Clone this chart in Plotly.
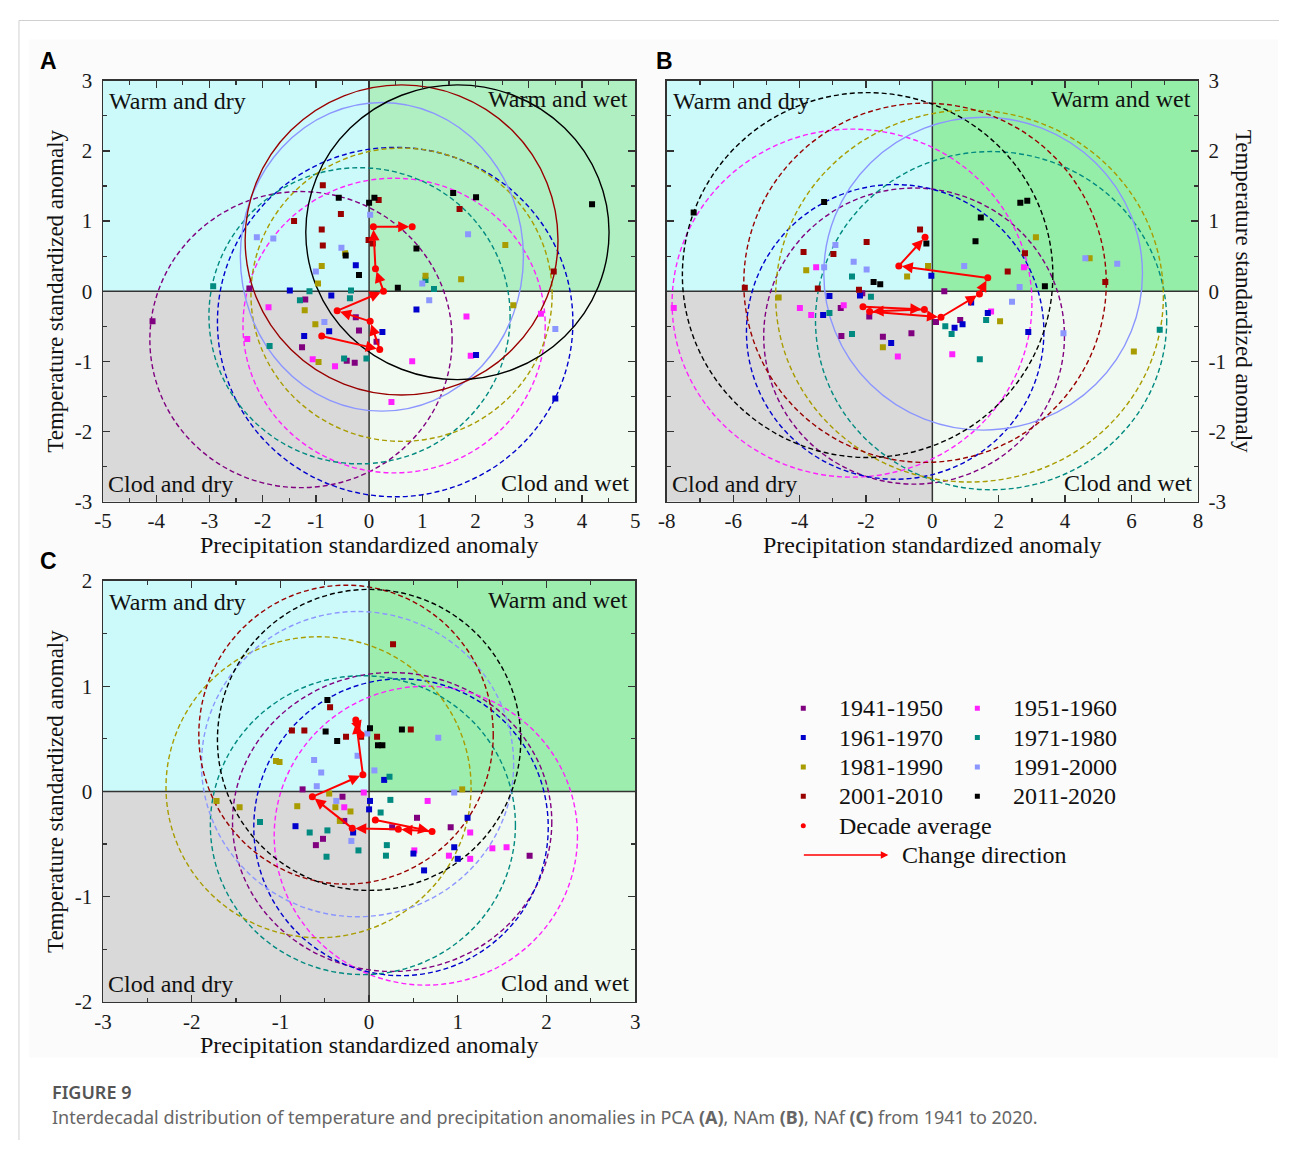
import plotly.graph_objects as go

# The page adds an 8px body margin; the figure is sized so that the page is exactly 1292x1160.
PAGE_W, PAGE_H, MARGIN = 1292, 1160, 8
W, H = PAGE_W - 2 * MARGIN, PAGE_H - 2 * MARGIN

DECADES = ["1941-1950", "1951-1960", "1961-1970", "1971-1980",
           "1981-1990", "1991-2000", "2001-2010", "2011-2020"]
COLORS = ["#800080", "#ff22ff", "#0000cc", "#008a80",
          "#a89c00", "#8c96ff", "#990000", "#000000"]

# ---------------- Panel A (PCA) ----------------
A_1941 = [(-1.20, -0.12), (-0.25, -0.37), (-0.19, -0.56), (-1.26, -0.80), (-0.42, -0.99),
          (-0.27, -1.02), (-4.07, -0.43), (0.14, -0.72), (-2.25, 0.04)]
A_1951 = [(-1.89, -0.23), (-2.29, -0.68), (-1.06, -0.97), (-0.64, -1.07), (0.42, -1.58),
          (0.81, -1.00), (1.83, -0.36), (1.91, -0.92), (3.23, -0.32)]
A_1961 = [(-0.25, 0.37), (-1.49, 0.01), (-0.71, -0.06), (0.89, -0.26), (-0.75, -0.57),
          (-1.22, -0.64), (0.25, -0.58), (2.01, -0.91), (3.50, -1.53)]
A_1971 = [(-2.93, 0.07), (-1.12, 0.00), (-0.34, 0.01), (1.22, 0.03), (-1.30, -0.13),
          (-0.36, -0.10), (1.06, 0.16), (-1.87, -0.78), (-0.47, -0.96), (-0.05, -0.96)]
A_1981 = [(-0.45, 0.54), (-0.89, 0.36), (-0.96, 0.11), (1.06, 0.22), (1.73, 0.17),
          (2.56, 0.66), (2.71, -0.20), (-1.21, -0.27), (-1.01, -0.47), (-0.95, -1.01)]
A_1991 = [(0.02, 1.09), (-2.11, 0.77), (-1.80, 0.75), (-0.52, 0.62), (-1.00, 0.28),
          (1.86, 0.81), (1.00, 0.11), (1.13, -0.13), (-0.84, -0.44), (3.50, -0.54)]
A_2001 = [(-0.87, 1.51), (0.18, 1.30), (-0.53, 1.10), (-1.41, 1.00), (1.70, 1.17),
          (-0.89, 0.88), (-0.87, 0.65), (-0.01, 0.73), (0.07, 0.68), (3.47, 0.28)]
A_2011 = [(2.01, 1.34), (1.58, 1.40), (4.19, 1.24), (0.00, 1.26), (0.10, 1.33),
          (-0.57, 1.33), (0.89, 0.61), (-0.44, 0.51), (-0.19, 0.23), (0.54, 0.05)]
A_avg_x = [-0.89, 0.20, 0.02, -0.60, 0.27, 0.12, 0.08, 0.81]
A_avg_y = [-0.64, -0.83, -0.43, -0.28, 0.00, 0.32, 0.92, 0.92]
A_circ_cx = [-1.28, 0.47, 0.49, -0.18, 0.61, 0.24, 0.61, 1.66]
A_circ_cy = [-0.69, -0.49, -0.44, -0.35, -0.05, 0.49, 0.73, 0.84]
A_circ_rx = [2.84, 2.84, 3.34, 2.83, 2.83, 2.66, 2.94, 2.85]
A_circ_ry = [2.11, 2.10, 2.49, 2.11, 2.09, 2.20, 2.21, 2.10]

# ---------------- Panel B (NAm) ----------------
B_1941 = [(-2.11, -0.03), (-2.76, -0.24), (-1.90, -0.36), (-2.74, -0.64), (-1.49, -0.65),
          (-0.63, -0.60), (0.36, 0.00), (0.11, -0.44), (0.84, -0.41)]
B_1951 = [(-3.50, 0.34), (-3.99, -0.24), (-3.65, -0.34), (-2.67, -0.20), (-7.79, -0.24),
          (-1.04, -0.93), (0.60, -0.90), (1.77, -0.29), (2.76, 0.34)]
B_1961 = [(-0.03, 0.22), (-3.10, -0.07), (-2.18, -0.06), (-3.29, -0.34), (1.17, -0.16),
          (1.67, -0.31), (0.67, -0.52), (0.91, -0.47), (-1.24, -0.74), (2.89, -0.58)]
B_1971 = [(-2.42, 0.21), (-1.85, -0.08), (-3.10, -0.31), (-2.42, -0.61), (0.39, -0.50),
          (0.58, -0.61), (1.62, -0.41), (1.43, -0.97), (6.85, -0.55)]
B_1981 = [(-3.80, 0.30), (-0.76, 0.21), (-0.13, 0.36), (3.12, 0.77), (4.74, 0.47),
          (-4.63, -0.09), (2.04, -0.43), (-1.49, -0.80), (6.07, -0.86)]
B_1991 = [(-2.92, 0.66), (-2.37, 0.42), (-1.98, 0.31), (-3.26, 0.34), (0.96, 0.36),
          (4.61, 0.47), (5.57, 0.39), (2.63, 0.06), (2.40, -0.15), (3.95, -0.60)]
B_2001 = [(-0.37, 0.88), (-1.98, 0.70), (-3.88, 0.56), (-2.98, 0.53), (2.79, 0.54),
          (2.27, 0.28), (-3.45, 0.04), (-5.65, 0.05), (-2.21, 0.02), (5.21, 0.13)]
B_2011 = [(-7.19, 1.12), (-3.26, 1.27), (2.65, 1.26), (2.86, 1.29), (1.46, 1.05),
          (1.30, 0.71), (-0.18, 0.68), (-1.77, 0.13), (-1.57, 0.10), (3.39, 0.07)]
B_avg_x = [-2.09, -0.24, -1.89, 0.26, 1.42, 1.67, -1.01, -0.22]
B_avg_y = [-0.22, -0.26, -0.29, -0.37, -0.04, 0.19, 0.36, 0.77]
B_circ_cx = [-0.55, -2.42, -1.12, 1.77, 1.12, 1.53, -0.22, -1.95]
B_circ_cy = [-0.64, -0.17, -0.58, -0.42, -0.07, 0.25, 0.12, 0.23]
B_circ_rx = [4.53, 5.42, 4.48, 5.29, 5.84, 4.80, 5.46, 5.58]
B_circ_ry = [2.11, 2.48, 2.10, 2.41, 2.65, 2.23, 2.56, 2.60]

# ---------------- Panel C (NAf) ----------------
C_1941 = [(-0.75, 0.02), (-0.30, -0.05), (-0.28, -0.28), (0.26, -0.34), (0.54, -0.25),
          (0.92, -0.34), (-0.60, -0.51), (-0.52, -0.45), (1.81, -0.61)]
C_1951 = [(-0.06, -0.01), (-0.28, -0.15), (0.66, -0.09), (1.14, -0.39), (0.51, -0.56),
          (0.90, -0.61), (1.14, -0.64), (1.39, -0.54), (1.55, -0.53)]
C_1961 = [(0.17, 0.11), (0.01, -0.09), (0.00, -0.17), (1.11, -0.25), (-0.83, -0.33),
          (-0.18, -0.39), (0.50, -0.59), (0.96, -0.53), (1.00, -0.64), (0.62, -0.75)]
C_1971 = [(0.23, 0.14), (0.24, -0.08), (0.13, -0.20), (-1.23, -0.29), (-0.67, -0.39),
          (-0.47, -0.37), (0.20, -0.51), (0.19, -0.61), (-0.48, -0.62), (-0.12, -0.56)]
C_1981 = [(-1.05, 0.29), (-1.01, 0.28), (-0.45, -0.02), (1.05, 0.02), (-1.72, -0.09),
          (-1.46, -0.15), (-0.81, -0.14), (-0.38, -0.15), (-0.21, -0.19), (-0.33, -0.28)]
C_1991 = [(-0.02, 0.55), (0.78, 0.51), (-0.62, 0.30), (-0.54, 0.18), (-0.59, 0.05),
          (-0.13, 0.34), (0.06, 0.20), (0.96, -0.01), (-0.37, -0.09), (-0.20, -0.47)]
C_2001 = [(0.27, 1.40), (-0.44, 0.80), (-0.87, 0.58), (-0.73, 0.58), (-0.26, 0.52),
          (-0.09, 0.52), (0.09, 0.52), (0.47, 0.59)]
C_2011 = [(-0.47, 0.87), (-0.49, 0.57), (-0.36, 0.48), (0.01, 0.60), (0.37, 0.59),
          (0.10, 0.44), (0.15, 0.44)]
C_avg_x = [0.07, 0.71, 0.33, -0.19, -0.64, -0.07, -0.15, -0.09]
C_avg_y = [-0.27, -0.38, -0.36, -0.35, -0.05, 0.16, 0.68, 0.54]
C_circ_cx = [0.26, 0.64, 0.36, -0.07, -0.57, -0.13, -0.26, 0.00]
C_circ_cy = [-0.29, -0.42, -0.34, -0.32, 0.04, 0.26, 0.54, 0.49]
C_circ_rx = [1.80, 1.71, 1.66, 1.72, 1.72, 1.76, 1.66, 1.71]
C_circ_ry = [1.42, 1.42, 1.41, 1.42, 1.43, 1.45, 1.42, 1.43]

X_RANGES = {"A": (-5, 5), "B": (-8, 8), "C": (-3, 3)}
Y_RANGES = {"A": (-3, 3), "B": (-3, 3), "C": (-2, 2)}
X_TICKS = {"A": [-5, -4, -3, -2, -1, 0, 1, 2, 3, 4, 5],
           "B": [-8, -6, -4, -2, 0, 2, 4, 6, 8],
           "C": [-3, -2, -1, 0, 1, 2, 3]}
Y_TICKS = {"A": [-3, -2, -1, 0, 1, 2, 3], "B": [-3, -2, -1, 0, 1, 2, 3], "C": [-2, -1, 0, 1, 2]}
QUAD_LABELS = ["Warm and dry", "Warm and wet", "Clod and dry", "Clod and wet"]
X_TITLE = "Precipitation standardized anomaly"
Y_TITLE = "Temperature standardized anomaly"
LEGEND_AVG = "Decade average"
LEGEND_DIR = "Change direction"


# ------------- helpers (page pixel -> paper) -------------
def px(xp):
    return (xp - MARGIN) / W


def py(yp):
    return 1 - (yp - MARGIN) / H


SERIF = "Liberation Serif"
TXT = "#111111"
fig = go.Figure()

panels = {
    "A": dict(xa="x", ya="y", pts=[A_1941, A_1951, A_1961, A_1971, A_1981, A_1991, A_2001, A_2011],
              ax=A_avg_x, ay=A_avg_y, cx=A_circ_cx, cy=A_circ_cy, rx=A_circ_rx, ry=A_circ_ry,
              solid={5, 6, 7}, box=(95, 633, 70, 500), tr="#b0efc2"),
    "B": dict(xa="x2", ya="y2", pts=[B_1941, B_1951, B_1961, B_1971, B_1981, B_1991, B_2001, B_2011],
              ax=B_avg_x, ay=B_avg_y, cx=B_circ_cx, cy=B_circ_cy, rx=B_circ_rx, ry=B_circ_ry,
              solid={5}, box=(665, 1202, 70, 500), tr="#95eea8"),
    "C": dict(xa="x3", ya="y3", pts=[C_1941, C_1951, C_1961, C_1971, C_1981, C_1991, C_2001, C_2011],
              ax=C_avg_x, ay=C_avg_y, cx=C_circ_cx, cy=C_circ_cy, rx=C_circ_rx, ry=C_circ_ry,
              solid=set(), box=(95, 633, 581, 1011), tr="#9deeae"),
}

shapes = []
annotations = []

# figure background frame
shapes.append(dict(type="rect", xref="paper", yref="paper", x0=px(20), x1=px(1283), y0=py(1068), y1=py(28),
                   fillcolor="#fbfbfb", line=dict(width=0), layer="below"))
shapes.append(dict(type="line", xref="paper", yref="paper", x0=px(10), x1=1.0, y0=py(8.5), y1=py(8.5),
                   line=dict(color="#d0d0d0", width=1), layer="below"))
shapes.append(dict(type="line", xref="paper", yref="paper", x0=px(10), x1=px(10), y0=0, y1=py(8.5),
                   line=dict(color="#d0d0d0", width=1), layer="below"))

for key, p in panels.items():
    xa, ya = p["xa"], p["ya"]
    x0r, x1r = X_RANGES[key]
    y0r, y1r = Y_RANGES[key]
    quads = [(x0r, 0, 0, y1r, "#ccfafa"), (0, x1r, 0, y1r, p["tr"]),
             (x0r, 0, y0r, 0, "#d9d9d9"), (0, x1r, y0r, 0, "#f1faf1")]
    for qx0, qx1, qy0, qy1, col in quads:
        shapes.append(dict(type="rect", xref=xa, yref=ya, x0=qx0, x1=qx1, y0=qy0, y1=qy1,
                           fillcolor=col, line=dict(width=0), layer="below"))
    shapes.append(dict(type="line", xref=xa, yref=ya, x0=0, x1=0, y0=y0r, y1=y1r,
                       line=dict(color="#333333", width=1.5), layer="below"))
    shapes.append(dict(type="line", xref=xa, yref=ya, x0=x0r, x1=x1r, y0=0, y1=0,
                       line=dict(color="#333333", width=1.5), layer="below"))
    for i in range(8):
        solid = i in p["solid"]
        shapes.append(dict(type="circle", xref=xa, yref=ya,
                           x0=p["cx"][i] - p["rx"][i], x1=p["cx"][i] + p["rx"][i],
                           y0=p["cy"][i] - p["ry"][i], y1=p["cy"][i] + p["ry"][i],
                           line=dict(color=COLORS[i], width=1.4,
                                     dash="solid" if solid else "5px,3px"),
                           layer="below"))
    for i in range(8):
        pts = p["pts"][i]
        fig.add_trace(go.Scatter(x=[a for a, b in pts], y=[b for a, b in pts], mode="markers",
                                 marker=dict(symbol="square", size=6, color=COLORS[i]),
                                 xaxis=xa, yaxis=ya, showlegend=False, hoverinfo="skip"))
    fig.add_trace(go.Scatter(x=p["ax"], y=p["ay"], mode="markers",
                             marker=dict(symbol="circle", size=7, color="#ff0000"),
                             xaxis=xa, yaxis=ya, showlegend=False, hoverinfo="skip"))
    for i in range(7):
        annotations.append(dict(x=p["ax"][i + 1], y=p["ay"][i + 1], ax=p["ax"][i], ay=p["ay"][i],
                                xref=xa, yref=ya, axref=xa, ayref=ya, text="", showarrow=True,
                                arrowhead=2, arrowsize=1.1, arrowwidth=2, arrowcolor="#ff0000",
                                standoff=3))
    bx0, bx1, by0, by1 = p["box"]
    lab_font = dict(family=SERIF, size=24, color=TXT)
    annotations.append(dict(x=px(bx0 + 4), y=py(by0 + 21), xref="paper", yref="paper", text=QUAD_LABELS[0],
                            showarrow=False, xanchor="left", yanchor="middle", font=lab_font))
    annotations.append(dict(x=px(bx1 - 5), y=py(by0 + 19), xref="paper", yref="paper", text=QUAD_LABELS[1],
                            showarrow=False, xanchor="right", yanchor="middle", font=lab_font))
    annotations.append(dict(x=px(bx0 + 3), y=py(by1 - 18), xref="paper", yref="paper", text=QUAD_LABELS[2],
                            showarrow=False, xanchor="left", yanchor="middle", font=lab_font))
    annotations.append(dict(x=px(bx1 - 4), y=py(by1 - 19), xref="paper", yref="paper", text=QUAD_LABELS[3],
                            showarrow=False, xanchor="right", yanchor="middle", font=lab_font))
    annotations.append(dict(x=px((bx0 + bx1) / 2), y=py(by1 + 44), xref="paper", yref="paper", text=X_TITLE,
                            showarrow=False, xanchor="center", yanchor="middle",
                            font=dict(family=SERIF, size=24, color=TXT)))
    if key == "B":
        annotations.append(dict(x=px(1248), y=py((by0 + by1) / 2), xref="paper", yref="paper", text=Y_TITLE,
                                showarrow=False, textangle=90, xanchor="center", yanchor="middle",
                                font=dict(family=SERIF, size=23, color=TXT)))
    else:
        annotations.append(dict(x=px(47), y=py((by0 + by1) / 2), xref="paper", yref="paper", text=Y_TITLE,
                                showarrow=False, textangle=-90, xanchor="center", yanchor="middle",
                                font=dict(family=SERIF, size=23, color=TXT)))
    lx = 40 if key != "B" else 663
    annotations.append(dict(x=px(lx), y=py(by0 - 20), xref="paper", yref="paper", text="<b>%s</b>" % key,
                            showarrow=False, xanchor="center", yanchor="middle",
                            font=dict(family="Liberation Sans", size=23, color="#000000")))


def axis(rng, ticks, minor, domain, standoff, side=None):
    d = dict(range=list(rng), tickmode="array", tickvals=ticks, ticktext=[str(t) for t in ticks],
             domain=domain, showline=True,
             linecolor="#333333", linewidth=1.5, mirror="ticks", ticks="inside", ticklen=7,
             tickwidth=1.3, tickcolor="#333333", showgrid=False, zeroline=False,
             tickfont=dict(family=SERIF, size=21, color="#1a1a1a"),
             minor=dict(dtick=minor, tick0=rng[0], ticks="inside", ticklen=4, tickwidth=1.2,
                        tickcolor="#333333", showgrid=False),
             ticklabelstandoff=standoff, fixedrange=True)
    if side:
        d["side"] = side
    return d


layout_axes = dict(
    xaxis=dict(axis(X_RANGES["A"], X_TICKS["A"], 0.5, [px(95), px(633)], 0), anchor="y"),
    yaxis=dict(axis(Y_RANGES["A"], Y_TICKS["A"], 0.5, [py(500), py(70)], 5), anchor="x"),
    xaxis2=dict(axis(X_RANGES["B"], X_TICKS["B"], 1, [px(665), px(1202)], 0), anchor="y2"),
    yaxis2=dict(axis(Y_RANGES["B"], Y_TICKS["B"], 0.5, [py(500), py(70)], 5, side="right"), anchor="x2"),
    xaxis3=dict(axis(X_RANGES["C"], X_TICKS["C"], 0.5, [px(95), px(633)], 0), anchor="y3"),
    yaxis3=dict(axis(Y_RANGES["C"], Y_TICKS["C"], 0.5, [py(1011), py(581)], 5), anchor="x3"),
)

# ---------------- custom legend on a hidden axis ----------------
LEG_X0, LEG_X1, LEG_Y0, LEG_Y1 = 780, 1140, 690, 880
leg_col_x = [803, 979]
leg_row_y = [711, 741, 771, 801]
for i in range(8):
    col, row = i % 2, i // 2
    fig.add_trace(go.Scatter(x=[leg_col_x[col]], y=[leg_row_y[row]], mode="markers",
                             marker=dict(symbol="square", size=5, color=COLORS[i]),
                             xaxis="x4", yaxis="y4", showlegend=False, hoverinfo="skip"))
    annotations.append(dict(x=px(leg_col_x[col] + 34), y=py(leg_row_y[row]), xref="paper", yref="paper",
                            text=DECADES[i], showarrow=False, xanchor="left", yanchor="middle",
                            font=dict(family=SERIF, size=24, color=TXT)))
fig.add_trace(go.Scatter(x=[803], y=[831], mode="markers", marker=dict(symbol="circle", size=5, color="#ff0000"),
                         xaxis="x4", yaxis="y4", showlegend=False, hoverinfo="skip"))
annotations.append(dict(x=px(837), y=py(831), xref="paper", yref="paper", text=LEGEND_AVG, showarrow=False,
                        xanchor="left", yanchor="middle", font=dict(family=SERIF, size=24, color=TXT)))
annotations.append(dict(x=px(889), y=py(861), ax=-86, ay=0, xref="paper", yref="paper",
                        text="", showarrow=True, arrowhead=2, arrowsize=1,
                        arrowwidth=1.5, arrowcolor="#ff0000"))
annotations.append(dict(x=px(901), y=py(861), xref="paper", yref="paper", text=LEGEND_DIR, showarrow=False,
                        xanchor="left", yanchor="middle", font=dict(family=SERIF, size=24, color=TXT)))

layout_axes["xaxis4"] = dict(domain=[px(LEG_X0), px(LEG_X1)], range=[LEG_X0, LEG_X1], visible=False,
                             anchor="y4", fixedrange=True)
layout_axes["yaxis4"] = dict(domain=[py(LEG_Y1), py(LEG_Y0)], range=[LEG_Y1, LEG_Y0], visible=False,
                             anchor="x4", fixedrange=True)

# ---------------- caption ----------------
annotations.append(dict(x=px(41), y=py(1103), xref="paper", yref="paper", text="FIGURE 9", showarrow=False,
                        xanchor="left", yanchor="middle",
                        font=dict(family="Noto Sans", size=18, color="#555555", weight=600)))
annotations.append(dict(x=px(41), y=py(1128), xref="paper", yref="paper",
                        text="Interdecadal distribution of temperature and precipitation anomalies in PCA <b>(A)</b>, "
                             "NAm <b>(B)</b>, NAf <b>(C)</b> from 1941 to 2020.",
                        showarrow=False, xanchor="left", yanchor="middle",
                        font=dict(family="Noto Sans", size=18, color="#666666")))

fig.update_layout(width=W, height=H, margin=dict(l=0, r=0, t=0, b=0), paper_bgcolor="white",
                  plot_bgcolor="rgba(0,0,0,0)", shapes=shapes, annotations=annotations,
                  showlegend=False, **layout_axes)

fig.write_html("out.html", config={"displayModeBar": False, "staticPlot": True})
